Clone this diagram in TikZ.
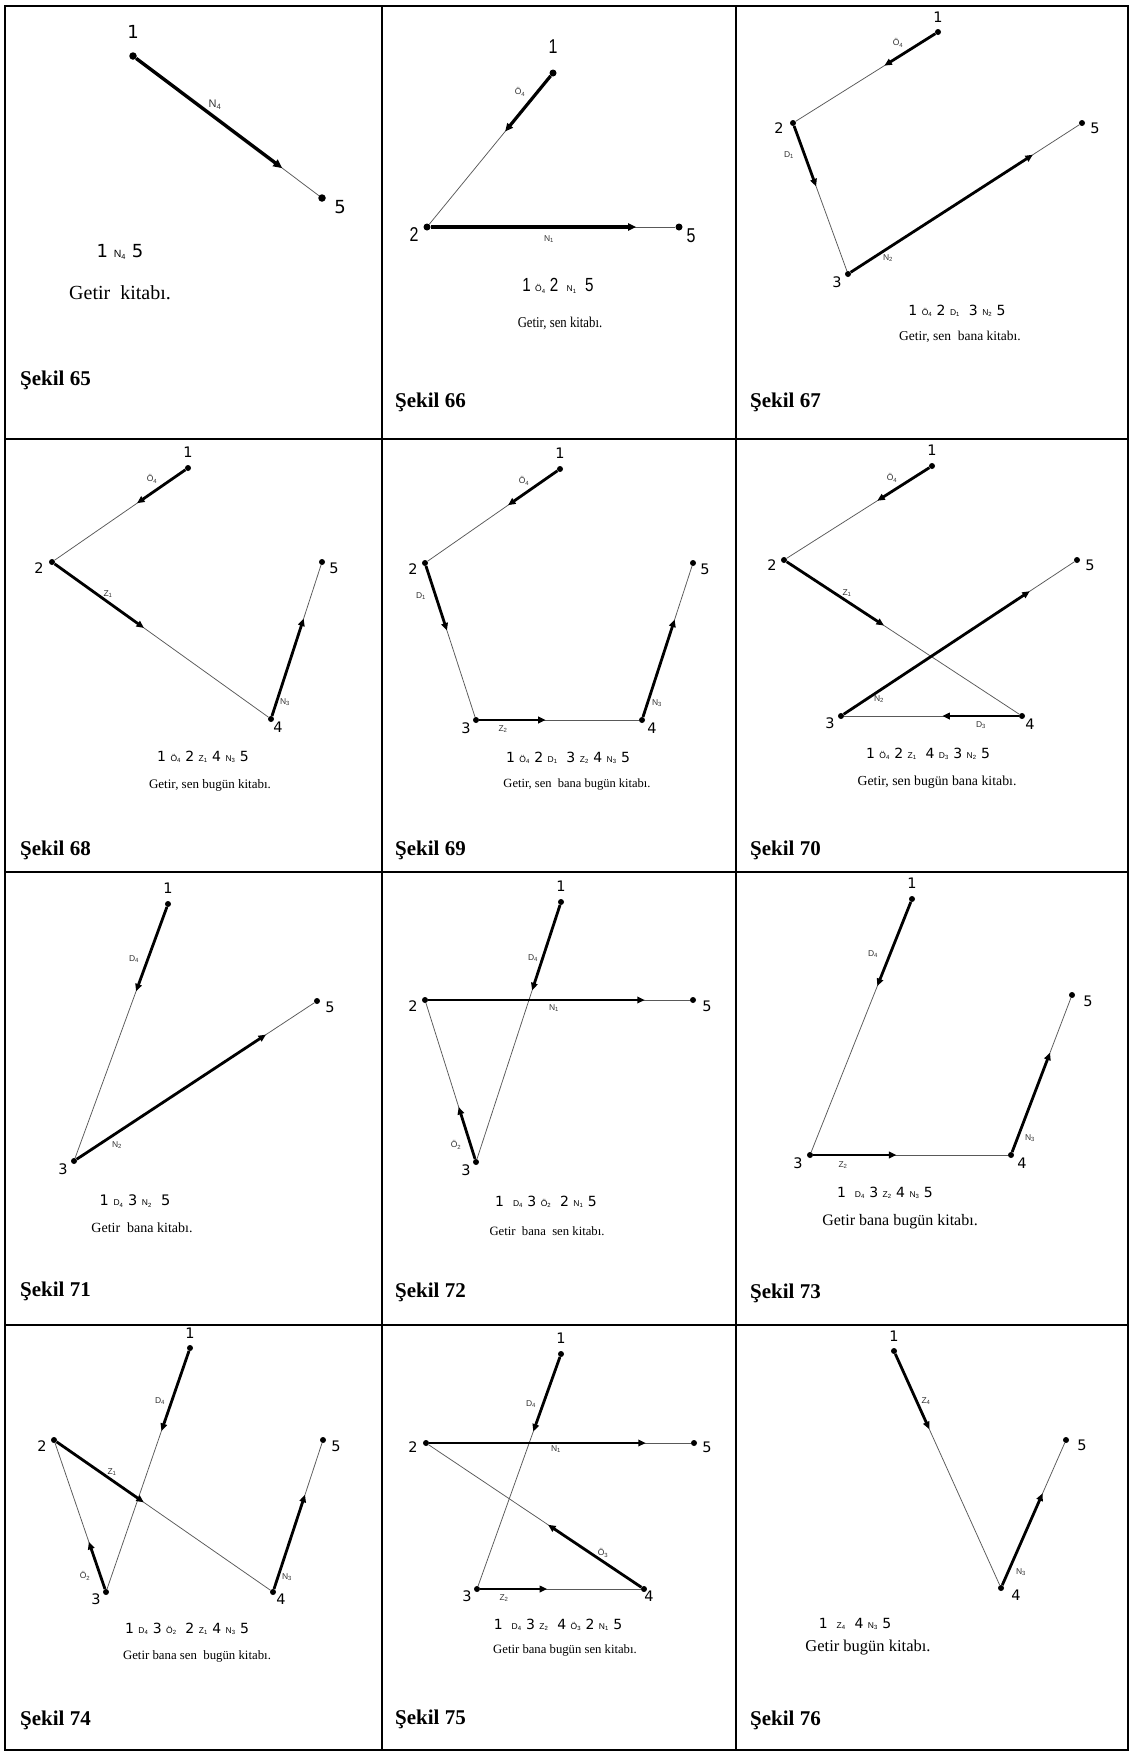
\documentclass[tikz,border=0pt]{standalone}
\usepackage{fontspec}
\setmainfont{Liberation Serif}
\setsansfont{DejaVu Sans}
\newfontfamily\arialfont{Liberation Sans}
\newfontfamily\narrowsans[FakeStretch=0.8]{Liberation Sans}
\newfontfamily\narrowserif[FakeStretch=0.85]{Liberation Serif}
\usetikzlibrary{arrows.meta, calc}
\newcommand\sub[3][8.5]{{\arialfont\fontsize{#1}{#1}\selectfont #2\textsubscript{#3}}}

\begin{document}
\begin{tikzpicture}[x=1pt,y=-1pt,
	dot/.style={circle,fill=black,inner sep=0pt,minimum size=6pt},
	num/.style={font=\sffamily\fontsize{14.5}{14.5}\selectfont,inner sep=0pt},
	elab/.style={font=\arialfont\fontsize{8.5}{8.5}\selectfont,text=black!80,inner sep=0pt},
	seq/.style={font=\sffamily\fontsize{14}{14}\selectfont,inner sep=0pt},
	sent/.style={font=\fontsize{#1}{#1}\selectfont,inner sep=0pt},
	fig/.style={font=\bfseries\fontsize{21}{21}\selectfont,anchor=west,inner sep=0pt},
	link/.style={line width=0.75pt,black!65},
	heavy/.style={line width=2.8pt,-{Triangle[length=7.5pt,width=6.5pt]}}]
	\useasboundingbox (0,0) rectangle (1130,1751);
	\fill[white] (0,0) rectangle (1130,1751);
	\draw[line width=1.6pt] (5,6) rectangle (1128,1750);
	\draw[line width=1.6pt] (382,6) -- (382,1750);
	\draw[line width=1.6pt] (736,6) -- (736,1750);
	\draw[line width=1.6pt] (5,439) -- (1128,439);
	\draw[line width=1.6pt] (5,872) -- (1128,872);
	\draw[line width=1.6pt] (5,1325) -- (1128,1325);

	\node[dot,minimum size=7.5pt] (a1) at (133,56) {};
	\node[dot,minimum size=7.5pt] (a5) at (322,198) {};
	\draw[link] (a1) -- (a5);
	\draw[heavy,line width=3.4pt,-{Triangle[length=9pt,width=8pt]}] (a1) -- ($(a1)!0.79!(a5)$);
	\node[num,font=\sffamily\fontsize{18}{18}\selectfont] (a1t) at (133,32) {1};
	\node[num,font=\sffamily\fontsize{18}{18}\selectfont] (a5t) at (340,207) {5};
	\node[elab,font=\arialfont\fontsize{11}{11}\selectfont] (a15) at (215,105) {N\textsubscript{4}};
	\node[seq,font=\sffamily\fontsize{18}{18}\selectfont] (aseq) at (120,252) {1 \sub[10.5]{N}{4} 5};
	\node[sent=20] (atx) at (120,293) {Getir\ \ kitabı.};
	\node[fig] (acap) at (20,380) {Şekil 65};

	\node[dot,minimum size=7pt] (b1) at (553,73) {};
	\node[dot,minimum size=7pt] (b2) at (427,227) {};
	\node[dot,minimum size=7pt] (b5) at (679,227) {};
	\draw[link] (b1) -- (b2);
	\draw[link] (b2) -- (b5);
	\draw[heavy,line width=3.2pt,-{Triangle[length=8pt,width=7pt]}] (b1) -- ($(b1)!0.38!(b2)$);
	\draw[heavy,line width=3.2pt,-{Triangle[length=8pt,width=7pt]}] (b2) -- ($(b2)!0.83!(b5)$);
	\node[num,font=\narrowsans\fontsize{20}{20}\selectfont] (b1t) at (553,47) {1};
	\node[num,font=\narrowsans\fontsize{20}{20}\selectfont] (b2t) at (414,235) {2};
	\node[num,font=\narrowsans\fontsize{20}{20}\selectfont] (b5t) at (691,236) {5};
	\node[elab] (b12) at (520,92) {Ö\textsubscript{4}};
	\node[elab] (b25) at (549,239) {N\textsubscript{1}};
	\node[seq,font=\narrowsans\fontsize{19}{19}\selectfont] (bseq) at (558,286) {1 \sub{Ö}{4} 2 \ \sub{N}{1} \ 5};
	\node[inner sep=0pt,font=\narrowserif\fontsize{15}{15}\selectfont] (btx) at (560,323) {Getir, sen\ kitabı.};
	\node[fig] (bcap) at (395,402) {Şekil 66};

	\node[dot] (c1) at (938,32) {};
	\node[dot] (c2) at (793,123) {};
	\node[dot] (c3) at (848,274) {};
	\node[dot] (c5) at (1082,123) {};
	\draw[link] (c1) -- (c2);
	\draw[link] (c2) -- (c3);
	\draw[link] (c3) -- (c5);
	\draw[heavy] (c1) -- ($(c1)!0.37!(c2)$);
	\draw[heavy] (c2) -- ($(c2)!0.42!(c3)$);
	\draw[heavy] (c3) -- ($(c3)!0.79!(c5)$);
	\node[num] (c1t) at (938,17) {1};
	\node[num] (c2t) at (779,128) {2};
	\node[num] (c3t) at (837,282) {3};
	\node[num] (c5t) at (1095,128) {5};
	\node[elab] (c12) at (898,43) {Ö\textsubscript{4}};
	\node[elab] (c23) at (789,155) {D\textsubscript{1}};
	\node[elab] (c35) at (888,258) {N\textsubscript{2}};
	\node[seq] (cseq) at (957,311) {1 \sub{Ö}{4} 2 \sub{D}{1} \ 3 \sub{N}{2} 5};
	\node[sent=13.5] (ctx) at (960,337) {Getir, sen\ \ bana kitabı.};
	\node[fig] (ccap) at (750,402) {Şekil 67};

	\node[dot] (d1) at (188,468) {};
	\node[dot] (d2) at (52,562) {};
	\node[dot] (d4) at (271,719) {};
	\node[dot] (d5) at (322,562) {};
	\draw[link] (d1) -- (d2);
	\draw[link] (d2) -- (d4);
	\draw[link] (d4) -- (d5);
	\draw[heavy] (d1) -- ($(d1)!0.375!(d2)$);
	\draw[heavy] (d2) -- ($(d2)!0.42!(d4)$);
	\draw[heavy] (d4) -- ($(d4)!0.64!(d5)$);
	\node[num] (d1t) at (188,452) {1};
	\node[num] (d2t) at (39,568) {2};
	\node[num] (d4t) at (278,727) {4};
	\node[num] (d5t) at (334,568) {5};
	\node[elab] (d12) at (152,479) {Ö\textsubscript{4}};
	\node[elab] (d24) at (108,594) {Z\textsubscript{1}};
	\node[elab] (d45) at (285,702) {N\textsubscript{3}};
	\node[seq] (dseq) at (203,757) {1 \sub{Ö}{4} 2 \sub{Z}{1} 4 \sub{N}{3} 5};
	\node[sent=13] (dtx) at (210,785) {Getir, sen bugün kitabı.};
	\node[fig] (dcap) at (20,850) {Şekil 68};

	\node[dot] (e1) at (560,469) {};
	\node[dot] (e2) at (425,563) {};
	\node[dot] (e3) at (476,720) {};
	\node[dot] (e4) at (642,720) {};
	\node[dot] (e5) at (693,563) {};
	\draw[link] (e1) -- (e2);
	\draw[link] (e2) -- (e3);
	\draw[link] (e3) -- (e4);
	\draw[link] (e4) -- (e5);
	\draw[heavy] (e1) -- ($(e1)!0.385!(e2)$);
	\draw[heavy] (e2) -- ($(e2)!0.43!(e3)$);
	\draw[heavy] (e3) -- ($(e3)!0.42!(e4)$);
	\draw[heavy] (e4) -- ($(e4)!0.64!(e5)$);
	\node[num] (e1t) at (560,453) {1};
	\node[num] (e2t) at (413,569) {2};
	\node[num] (e3t) at (466,728) {3};
	\node[num] (e4t) at (652,728) {4};
	\node[num] (e5t) at (705,569) {5};
	\node[elab] (e12) at (524,481) {Ö\textsubscript{4}};
	\node[elab] (e23) at (421,596) {D\textsubscript{1}};
	\node[elab] (e34) at (503,729) {Z\textsubscript{2}};
	\node[elab] (e45) at (657,703) {N\textsubscript{3}};
	\node[seq] (eseq) at (568,758) {1 \sub{Ö}{4} 2 \sub{D}{1} \ 3 \sub{Z}{2} 4 \sub{N}{3} 5};
	\node[sent=12.5] (etx) at (577,785) {Getir, sen\ \ bana bugün kitabı.};
	\node[fig] (ecap) at (395,850) {Şekil 69};

	\node[dot] (f1) at (932,466) {};
	\node[dot] (f2) at (784,560) {};
	\node[dot] (f3) at (841,716) {};
	\node[dot] (f4) at (1022,716) {};
	\node[dot] (f5) at (1077,560) {};
	\draw[link] (f1) -- (f2);
	\draw[link] (f2) -- (f4);
	\draw[link] (f4) -- (f3);
	\draw[link] (f3) -- (f5);
	\draw[heavy] (f1) -- ($(f1)!0.37!(f2)$);
	\draw[heavy] (f2) -- ($(f2)!0.42!(f4)$);
	\draw[heavy] (f4) -- ($(f4)!0.44!(f3)$);
	\draw[heavy] (f3) -- ($(f3)!0.80!(f5)$);
	\node[num] (f1t) at (932,450) {1};
	\node[num] (f2t) at (772,565) {2};
	\node[num] (f3t) at (830,723) {3};
	\node[num] (f4t) at (1030,724) {4};
	\node[num] (f5t) at (1090,565) {5};
	\node[elab] (f12) at (892,478) {Ö\textsubscript{4}};
	\node[elab] (f24) at (847,593) {Z\textsubscript{1}};
	\node[elab] (f43) at (981,725) {D\textsubscript{3}};
	\node[elab] (f35) at (879,699) {N\textsubscript{2}};
	\node[seq] (fseq) at (928,754) {1 \sub{Ö}{4} 2 \sub{Z}{1} \ 4 \sub{D}{3} 3 \sub{N}{2} 5};
	\node[sent=13.8] (ftx) at (937,782) {Getir, sen bugün bana kitabı.};
	\node[fig] (fcap) at (750,850) {Şekil 70};

	\node[dot] (g1) at (168,904) {};
	\node[dot] (g3) at (74,1161) {};
	\node[dot] (g5) at (317,1001) {};
	\draw[link] (g1) -- (g3);
	\draw[link] (g3) -- (g5);
	\draw[heavy] (g1) -- ($(g1)!0.34!(g3)$);
	\draw[heavy] (g3) -- ($(g3)!0.79!(g5)$);
	\node[num] (g1t) at (168,888) {1};
	\node[num] (g3t) at (63,1169) {3};
	\node[num] (g5t) at (330,1007) {5};
	\node[elab] (g13) at (134,959) {D\textsubscript{4}};
	\node[elab] (g35) at (117,1145) {N\textsubscript{2}};
	\node[seq,font=\sffamily\fontsize{14.5}{14.5}\selectfont] (gseq) at (135,1201) {1 \sub{D}{4} 3 \sub{N}{2} \ 5};
	\node[sent=14] (gtx) at (142,1228) {Getir\ \ bana kitabı.};
	\node[fig] (gcap) at (20,1291) {Şekil 71};

	\node[dot] (h1) at (561,902) {};
	\node[dot] (h2) at (425,1000) {};
	\node[dot] (h3) at (476,1162) {};
	\node[dot] (h5) at (693,1000) {};
	\draw[link] (h1) -- (h3);
	\draw[link] (h3) -- (h2);
	\draw[link] (h2) -- (h5);
	\draw[heavy] (h1) -- ($(h1)!0.34!(h3)$);
	\draw[heavy] (h3) -- ($(h3)!0.34!(h2)$);
	\draw[heavy] (h2) -- ($(h2)!0.82!(h5)$);
	\node[num] (h1t) at (561,886) {1};
	\node[num] (h2t) at (413,1006) {2};
	\node[num] (h3t) at (466,1170) {3};
	\node[num] (h5t) at (707,1006) {5};
	\node[elab] (h13) at (533,958) {D\textsubscript{4}};
	\node[elab] (h32) at (456,1145) {Ö\textsubscript{2}};
	\node[elab] (h25) at (554,1008) {N\textsubscript{1}};
	\node[seq] (hseq) at (546,1202) {1 \ \sub{D}{4} 3 \sub{Ö}{2} \ 2 \sub{N}{1} 5};
	\node[sent=12.7] (htx) at (547,1231) {Getir\ \ bana\ \ sen kitabı.};
	\node[fig] (hcap) at (395,1292) {Şekil 72};

	\node[dot] (i1) at (912,899) {};
	\node[dot] (i3) at (810,1155) {};
	\node[dot] (i4) at (1011,1155) {};
	\node[dot] (i5) at (1072,995) {};
	\draw[link] (i1) -- (i3);
	\draw[link] (i3) -- (i4);
	\draw[link] (i4) -- (i5);
	\draw[heavy] (i1) -- ($(i1)!0.34!(i3)$);
	\draw[heavy] (i3) -- ($(i3)!0.43!(i4)$);
	\draw[heavy] (i4) -- ($(i4)!0.64!(i5)$);
	\node[num] (i1t) at (912,883) {1};
	\node[num] (i3t) at (798,1163) {3};
	\node[num] (i4t) at (1022,1163) {4};
	\node[num] (i5t) at (1088,1001) {5};
	\node[elab] (i13) at (873,954) {D\textsubscript{4}};
	\node[elab] (i34) at (843,1165) {Z\textsubscript{2}};
	\node[elab] (i45) at (1030,1138) {N\textsubscript{3}};
	\node[seq] (iseq) at (885,1193) {1 \ \sub{D}{4} 3 \sub{Z}{2} 4 \sub{N}{3} 5};
	\node[sent=16] (itx) at (900,1222) {Getir bana bugün kitabı.};
	\node[fig] (icap) at (750,1293) {Şekil 73};

	\node[dot] (j1) at (190,1348) {};
	\node[dot] (j2) at (54,1440) {};
	\node[dot] (j3) at (106,1592) {};
	\node[dot] (j4) at (273,1592) {};
	\node[dot] (j5) at (323,1440) {};
	\draw[link] (j1) -- (j3);
	\draw[link] (j3) -- (j2);
	\draw[link] (j2) -- (j4);
	\draw[link] (j4) -- (j5);
	\draw[heavy] (j1) -- ($(j1)!0.34!(j3)$);
	\draw[heavy] (j3) -- ($(j3)!0.33!(j2)$);
	\draw[heavy] (j2) -- ($(j2)!0.41!(j4)$);
	\draw[heavy] (j4) -- ($(j4)!0.64!(j5)$);
	\node[num] (j1t) at (190,1333) {1};
	\node[num] (j2t) at (42,1446) {2};
	\node[num] (j3t) at (96,1599) {3};
	\node[num] (j4t) at (281,1599) {4};
	\node[num] (j5t) at (336,1446) {5};
	\node[elab] (j13) at (160,1401) {D\textsubscript{4}};
	\node[elab] (j32) at (85,1576) {Ö\textsubscript{2}};
	\node[elab] (j24) at (112,1472) {Z\textsubscript{1}};
	\node[elab] (j45) at (287,1577) {N\textsubscript{3}};
	\node[seq] (jseq) at (187,1629) {1 \sub{D}{4} 3 \sub{Ö}{2} \ 2 \sub{Z}{1} 4 \sub{N}{3} 5};
	\node[sent=12.8] (jtx) at (197,1656) {Getir bana sen\ \ bugün kitabı.};
	\node[fig] (jcap) at (20,1720) {Şekil 74};

	\node[dot] (k1) at (561,1354) {};
	\node[dot] (k2) at (426,1443) {};
	\node[dot] (k3) at (477,1589) {};
	\node[dot] (k4) at (644,1589) {};
	\node[dot] (k5) at (694,1443) {};
	\draw[link] (k1) -- (k3);
	\draw[link] (k3) -- (k4);
	\draw[link] (k4) -- (k2);
	\draw[link] (k2) -- (k5);
	\draw[heavy] (k1) -- ($(k1)!0.33!(k3)$);
	\draw[heavy] (k3) -- ($(k3)!0.42!(k4)$);
	\draw[heavy] (k4) -- ($(k4)!0.44!(k2)$);
	\draw[heavy] (k2) -- ($(k2)!0.82!(k5)$);
	\node[num] (k1t) at (561,1338) {1};
	\node[num] (k2t) at (413,1447) {2};
	\node[num] (k3t) at (467,1596) {3};
	\node[num] (k4t) at (649,1596) {4};
	\node[num] (k5t) at (707,1447) {5};
	\node[elab] (k13) at (531,1404) {D\textsubscript{4}};
	\node[elab] (k34) at (504,1598) {Z\textsubscript{2}};
	\node[elab] (k42) at (603,1553) {Ö\textsubscript{3}};
	\node[elab] (k25) at (556,1449) {N\textsubscript{1}};
	\node[seq] (kseq) at (558,1625) {1 \ \sub{D}{4} 3 \sub{Z}{2} \ 4 \sub{Ö}{3} 2 \sub{N}{1} 5};
	\node[sent=12.7] (ktx) at (565,1650) {Getir bana bugün sen kitabı.};
	\node[fig] (kcap) at (395,1719) {Şekil 75};

	\node[dot] (l1) at (894,1351) {};
	\node[dot] (l4) at (1001,1588) {};
	\node[dot] (l5) at (1066,1440) {};
	\draw[link] (l1) -- (l4);
	\draw[link] (l4) -- (l5);
	\draw[heavy] (l1) -- ($(l1)!0.33!(l4)$);
	\draw[heavy] (l4) -- ($(l4)!0.64!(l5)$);
	\node[num] (l1t) at (894,1336) {1};
	\node[num] (l4t) at (1016,1595) {4};
	\node[num] (l5t) at (1082,1445) {5};
	\node[elab] (l14) at (926,1401) {Z\textsubscript{4}};
	\node[elab] (l45) at (1021,1572) {N\textsubscript{3}};
	\node[seq] (lseq) at (855,1624) {1 \ \sub{Z}{4} \ 4 \sub{N}{3} 5};
	\node[sent=16.5] (ltx) at (868,1648) {Getir bugün kitabı.};
	\node[fig] (lcap) at (750,1720) {Şekil 76};
\end{tikzpicture}
\end{document}
